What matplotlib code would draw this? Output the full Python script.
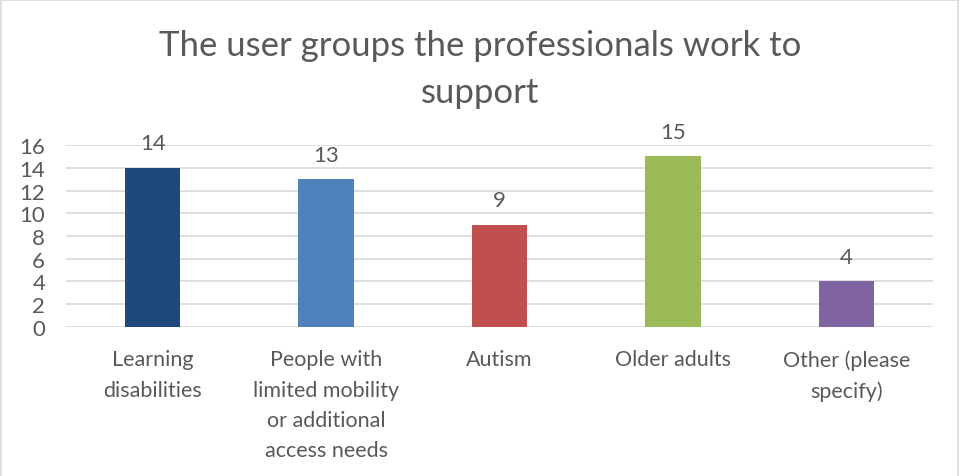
import matplotlib.pyplot as plt
from matplotlib.patches import Rectangle

plt.rcParams["font.family"] = ["Lato", "DejaVu Sans"]

categories = [
    "Learning\ndisabilities",
    "People with\nlimited mobility\nor additional\naccess needs",
    "Autism",
    "Older adults",
    "Other (please\nspecify)",
]
counts = [14, 13, 9, 15, 4]
bar_colors = ["#1F497D", "#4F81BD", "#C0504D", "#9BBB59", "#8064A2"]
y_ticks = [0, 2, 4, 6, 8, 10, 12, 14, 16]

TEXT = "#595959"
GRID = "#D9D9D9"

fig = plt.figure(figsize=(9.61, 4.77), dpi=100)
ax = fig.add_axes([0.0687, 0.3124, 0.9022, 0.3815])

x = range(len(categories))
bars = ax.bar(x, counts, width=0.32, color=bar_colors, zorder=3)

for rect, val in zip(bars, counts):
    ax.annotate(str(val), (rect.get_x() + rect.get_width() / 2, val),
                xytext=(0, 10.5), textcoords="offset points",
                ha="center", va="bottom", fontsize=16, color=TEXT)

ax.set_xlim(-0.5, len(categories) - 0.5)
ax.set_ylim(0, 16)
ax.set_yticks(y_ticks)
ax.set_xticks(list(x))
ax.set_xticklabels(categories, fontsize=15.5, color=TEXT, linespacing=1.65)
ax.tick_params(axis="y", labelsize=16, labelcolor=TEXT, length=0, pad=15)
ax.tick_params(axis="x", length=0, pad=16)
ax.grid(axis="y", color=GRID, linewidth=1.2, zorder=0)
for side in ["top", "right", "left", "bottom"]:
    ax.spines[side].set_visible(False)

fig.text(0.5, 0.854, "The user groups the professionals work to\nsupport",
         ha="center", va="center", fontsize=25, color=TEXT, linespacing=1.6)

# thin outline round the chart area
fig.patches.append(Rectangle((0.001, -0.01), 0.996, 1.007, transform=fig.transFigure,
                             fill=False, edgecolor=GRID, linewidth=1.2))

fig.savefig("out.png", dpi=100)
